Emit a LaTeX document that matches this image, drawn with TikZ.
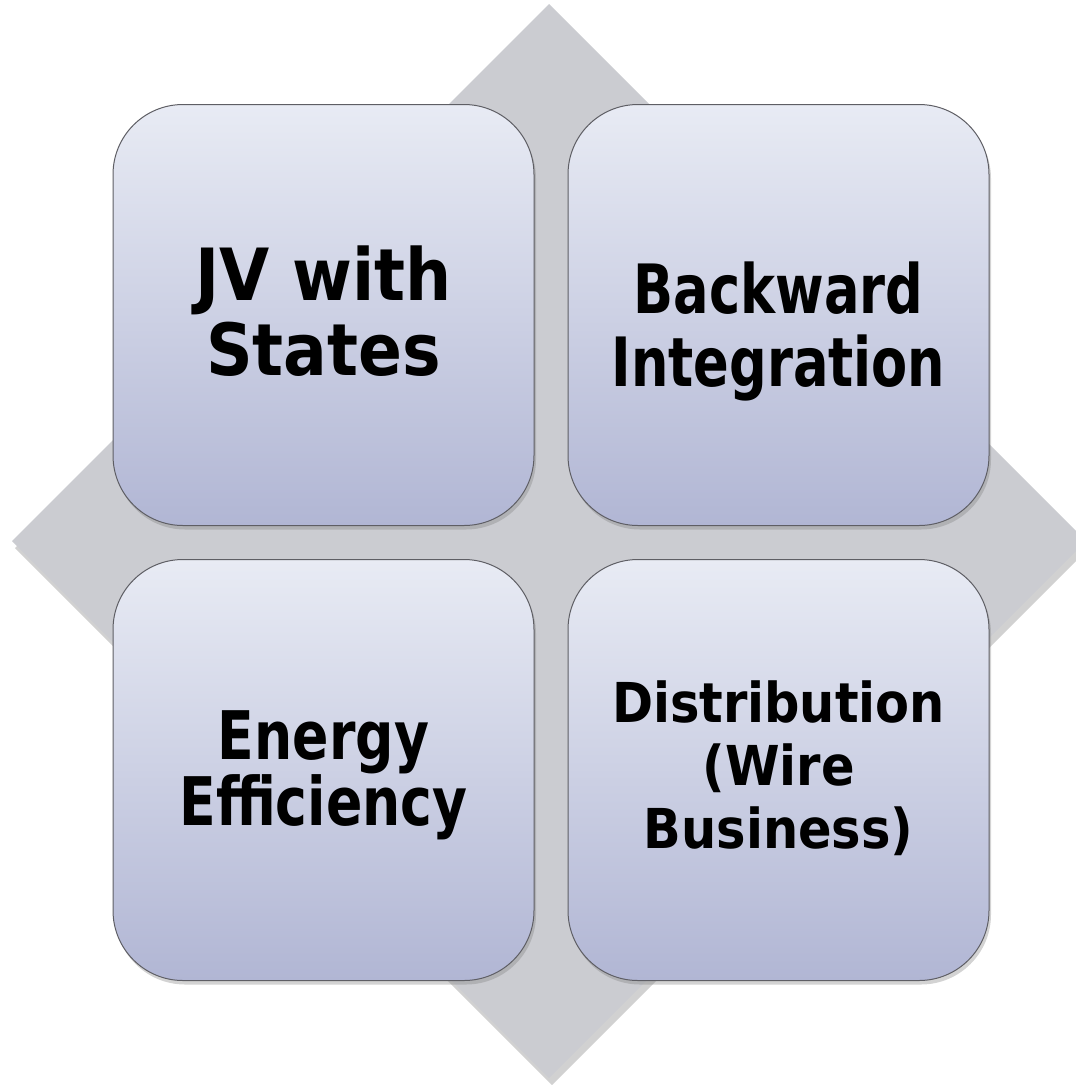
\documentclass[tikz,border=0pt]{standalone}
\usepackage{fontspec}
\newfontfamily\tilefont{DejaVu Sans Condensed}
\newfontfamily\narrowfont{DejaVu Sans Condensed}[FakeStretch=0.86]
\newfontfamily\lowfont{DejaVu Sans Condensed}[FakeStretch=0.89]
\usetikzlibrary{positioning,shadows}

\definecolor{diamondgray}{HTML}{CBCCD1}
\definecolor{tiletop}{HTML}{E8EBF4}
\definecolor{tilebottom}{HTML}{B1B6D4}
\definecolor{tileedge}{HTML}{5E5E64}

\tikzset{
  tile/.style={rectangle, rounded corners=70pt, minimum width=421pt, minimum height=421pt,
    inner sep=0pt, draw=tileedge, line width=1pt, top color=tiletop, bottom color=tilebottom,
    drop shadow={opacity=0.35, shadow xshift=2pt, shadow yshift=-4pt}},
  tiletext/.style={align=center, inner sep=0pt},
  bigtext/.style={tiletext, font=\tilefont\bfseries\fontsize{72}{75}\selectfont},
  midtext/.style={tiletext, font=\narrowfont\bfseries\fontsize{68}{73}\selectfont},
  lowtext/.style={tiletext, font=\lowfont\bfseries\fontsize{67}{65}\selectfont},
  smalltext/.style={tiletext, font=\tilefont\bfseries\fontsize{55}{63}\selectfont}
}

\begin{document}
\begin{tikzpicture}[x=1pt,y=-1pt]
    \useasboundingbox (0,0) rectangle (1076,1085);
    \clip (0,0) rectangle (1076,1085);
    \fill[black, opacity=0.18] (552,11) -- (1089,548) -- (552,1085) -- (15,548) -- cycle;
    \fill[diamondgray] (549,4) -- (1086,541) -- (549,1078) -- (12,541) -- cycle;

    \node[tile] (jv) at (323.5,315) {};
    \node[tile, right=33pt of jv] (backward) {};
    \node[tile, below=33pt of jv] (energy) {};
    \node[tile, right=33pt of energy] (distribution) {};

    \node[bigtext] (jvtext) at ([yshift=4pt]jv.center) {JV with\\States};
    \node[midtext] (backwardtext) at ([yshift=-16pt]backward.center) {Backward\\Integration};
    \node[lowtext] (energytext) at ([yshift=-5pt]energy.center) {Energy\\Efficiency};
    \node[smalltext] (distributiontext) at ([yshift=2pt]distribution.center) {Distribution\\(Wire\\Business)};
\end{tikzpicture}
\end{document}
